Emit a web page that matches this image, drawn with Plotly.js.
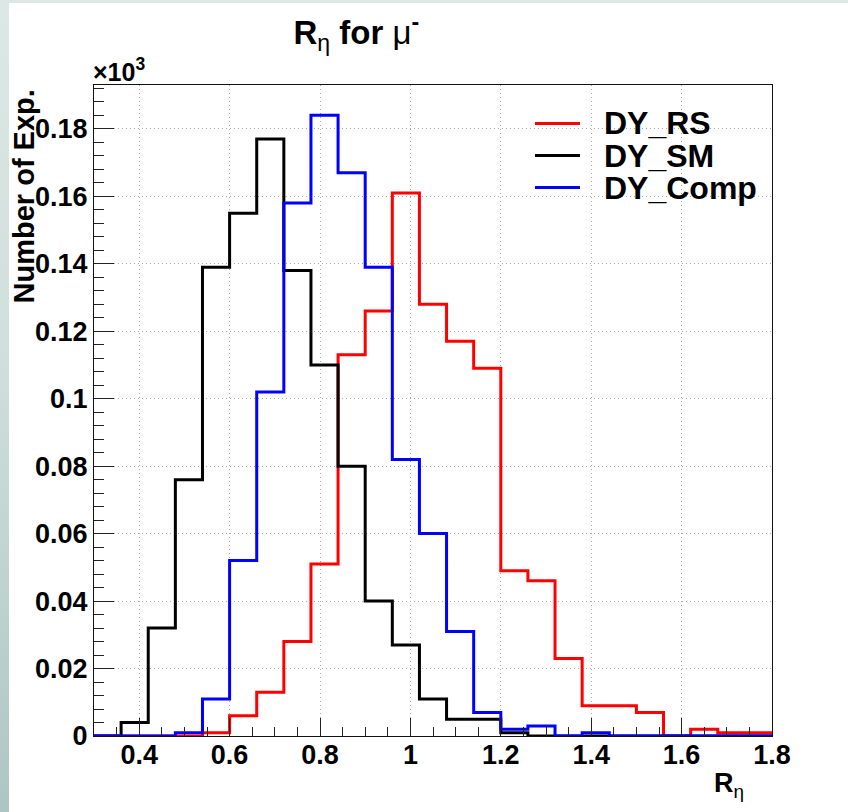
<!DOCTYPE html>
<html>
<head>
<meta charset="utf-8">
<script src="https://cdn.plot.ly/plotly-3.0.1.min.js"></script>
<style>
  html, body { margin: 0; padding: 0; width: 848px; height: 812px; overflow: hidden;
    background: linear-gradient(180deg, #dce8e5 0%, #cfdfdb 45%, #aec6c2 100%); }
  #chart { position: absolute; left: 9px; top: 3px; width: 839px; height: 809px; background: #ffffff; }
</style>
</head>
<body>
<div id="chart"></div>
<script>
// Histogram binning (25 bins from 0.30 to 1.80)
const binLow = 0.30;
const binWidth = 0.06;

const dyRS   = [0, 0, 0, 0, 0.001, 0.006, 0.013, 0.028, 0.051, 0.113, 0.126, 0.161, 0.128,
                0.117, 0.109, 0.049, 0.046, 0.023, 0.009, 0.009, 0.007, 0, 0.002, 0.001, 0.001];
const dySM   = [0, 0.004, 0.032, 0.076, 0.139, 0.155, 0.177, 0.138, 0.110, 0.080, 0.040, 0.027, 0.011,
                0.005, 0.005, 0.001, 0, 0, 0, 0, 0, 0, 0, 0, 0];
const dyComp = [0, 0, 0, 0.001, 0.011, 0.052, 0.102, 0.158, 0.184, 0.167, 0.139, 0.082, 0.060,
                0.031, 0.007, 0.002, 0.003, 0, 0.001, 0, 0, 0, 0, 0, 0];

const seriesNames  = ['DY_RS', 'DY_SM', 'DY_Comp'];
const seriesColors = ['#ff0000', '#000000', '#0000ff'];

const xTickVals = [0.4, 0.6, 0.8, 1, 1.2, 1.4, 1.6, 1.8];
const xTickText = ['0.4', '0.6', '0.8', '1', '1.2', '1.4', '1.6', '1.8'];
const yTickVals = [0, 0.02, 0.04, 0.06, 0.08, 0.1, 0.12, 0.14, 0.16, 0.18];
const yTickText = ['0', '0.02', '0.04', '0.06', '0.08', '0.1', '0.12', '0.14', '0.16', '0.18'];

const FONT = 'Liberation Sans, Arial, Helvetica, sans-serif';

const nBins = dyRS.length;
const edges = Array.from({length: nBins + 1}, (_, i) => +(binLow + i * binWidth).toFixed(4));

function stepTrace(vals, name, color) {
  return {
    type: 'scatter', mode: 'lines', name: name,
    x: edges, y: vals.concat([vals[vals.length - 1]]),
    line: {shape: 'hv', color: color, width: 3},
    hoverinfo: 'skip', showlegend: false
  };
}

const data = [
  stepTrace(dyRS, seriesNames[0], seriesColors[0]),
  stepTrace(dySM, seriesNames[1], seriesColors[1]),
  stepTrace(dyComp, seriesNames[2], seriesColors[2])
];

// manual ROOT-style legend
const legX0 = 0.6504, legX1 = 0.7168, legTextX = 0.7507;
const legY = [0.9409, 0.8917, 0.8425];
const shapes = seriesNames.map((n, i) => ({
  type: 'line', xref: 'paper', yref: 'paper', x0: legX0, x1: legX1, y0: legY[i], y1: legY[i],
  line: {color: seriesColors[i], width: 3}
}));
const legendAnn = seriesNames.map((n, i) => ({
  text: n, xref: 'paper', yref: 'paper', x: legTextX, y: legY[i], xanchor: 'left', yanchor: 'middle',
  borderpad: 0, showarrow: false, font: {family: FONT, size: 32, color: '#000', weight: 'bold'}
}));

const axisCommon = {
  showline: true, linecolor: '#111', linewidth: 1, mirror: true,
  zeroline: false, showgrid: true, gridcolor: '#a8a8a8', gridwidth: 1, griddash: '1px,3px',
  ticks: 'inside', tickcolor: '#222', tickwidth: 1, tickmode: 'array',
  tickfont: {family: FONT, size: 27, color: '#000', weight: 'bold'}
};

const layout = {
  width: 839, height: 809,
  margin: {l: 85, r: 76, t: 82, b: 76},
  paper_bgcolor: '#ffffff', plot_bgcolor: '#ffffff',
  showlegend: false,
  title: {
    text: 'R<sub><span style="font-weight:normal">η</span></sub> for <span style="font-weight:normal">μ</span><sup>-</sup>',
    font: {family: FONT, size: 33, color: '#000', weight: 'bold'},
    x: 0.414, xanchor: 'center', xref: 'container',
    y: 0.978, yanchor: 'top', yref: 'container'
  },
  xaxis: Object.assign({}, axisCommon, {
    range: [0.3, 1.8], tickvals: xTickVals, ticktext: xTickText, ticklen: 18, ticklabelstandoff: -5,
    minor: {ticks: 'inside', ticklen: 9, tickcolor: '#222', dtick: 0.05, tick0: 0.3, showgrid: false}
  }),
  yaxis: Object.assign({}, axisCommon, {
    range: [0, 0.193], tickvals: yTickVals, ticktext: yTickText, ticklen: 20,
    minor: {ticks: 'inside', ticklen: 10, tickcolor: '#222', dtick: 0.004, tick0: 0, showgrid: false}
  }),
  shapes: shapes,
  annotations: [
    {text: '×10<sup>3</sup>', xref: 'paper', yref: 'paper', x: 0, y: 1, xanchor: 'left', yanchor: 'bottom',
     xshift: -3, yshift: -3, showarrow: false, font: {family: FONT, size: 25, color: '#000', weight: 'bold'}},
    {text: 'Number of Exp.', xref: 'paper', yref: 'paper', x: -0.104, y: 0.997, xanchor: 'center', yanchor: 'top',
     textangle: -90, showarrow: false, font: {family: FONT, size: 29, color: '#000', weight: 'bold'}},
    {text: 'R<sub><span style="font-weight:normal">η</span></sub>', xref: 'paper', yref: 'paper', x: 0.962, y: -0.046,
     xanchor: 'right', yanchor: 'top',
     showarrow: false, font: {family: FONT, size: 27, color: '#000', weight: 'bold'}}
  ].concat(legendAnn)
};

Plotly.newPlot('chart', data, layout, {displayModeBar: false, staticPlot: true});
</script>
</body>
</html>
